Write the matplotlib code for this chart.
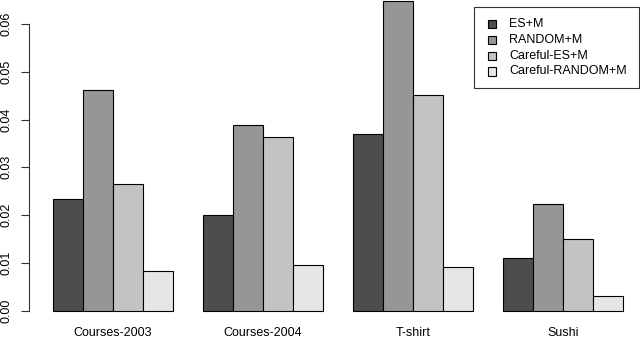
import matplotlib
matplotlib.use("Agg")
import matplotlib.pyplot as plt
from matplotlib.patches import Rectangle
import numpy as np

plt.rcParams['font.family'] = ['Liberation Sans', 'DejaVu Sans']

categories = ["Courses-2003", "Courses-2004", "T-shirt", "Sushi"]
series_names = ["ES+M", "RANDOM+M", "Careful-ES+M", "Careful-RANDOM+M"]
es_m = [0.0234, 0.0201, 0.0369, 0.0111]
random_m = [0.0461, 0.0388, 0.0649, 0.0223]
careful_es_m = [0.0265, 0.0363, 0.0452, 0.0150]
careful_random_m = [0.0083, 0.0095, 0.0092, 0.0030]
yticks = [0.00, 0.01, 0.02, 0.03, 0.04, 0.05, 0.06]
colors = ["#4D4D4D", "#969696", "#C3C3C3", "#E6E6E6"]

series = [es_m, random_m, careful_es_m, careful_random_m]

W, H = 640, 344
fig = plt.figure(figsize=(W / 100, H / 100), dpi=100)
ax = fig.add_axes([0, 0, 1, 1])
ax.set_xlim(-0.767, 20.567)
ax.set_ylim(-33.3 / 4778, 310.7 / 4778)

fs = 9.0
ngroups = len(categories)
nser = len(series)
for si, vals in enumerate(series):
    lefts = [1 + g * (nser + 1) + si for g in range(ngroups)]
    ax.bar(lefts, vals, width=1.0, align='edge', color=colors[si],
           edgecolor='black', linewidth=0.8)

centers = [1 + g * (nser + 1) + nser / 2 for g in range(ngroups)]
for c, name in zip(centers, categories):
    ax.text(c, (344 - 333) / 344, name, transform=ax.get_xaxis_transform(),
            ha='center', va='center', fontsize=fs, color='#000000')

for s in ['top', 'right', 'bottom']:
    ax.spines[s].set_visible(False)
ax.spines['left'].set_position(('data', 0.2))
ax.spines['left'].set_bounds(yticks[0], yticks[-1])
ax.spines['left'].set_linewidth(0.8)
ax.spines['left'].set_color('#333333')
ax.set_yticks(yticks)
ax.set_yticklabels([f"{t:.2f}" for t in yticks], rotation=90, va='center',
                   fontsize=fs)
ax.tick_params(axis='y', length=6, width=0.8, color='#333333', pad=6)
ax.set_xticks([])

# legend (drawn in figure pixel coords)
def fx(px):
    return px / W

def fy(py):
    return 1 - py / H

fig.patches.append(Rectangle((fx(474), fy(88)), fx(639) - fx(474), (88 - 7) / H,
                             transform=fig.transFigure, fill=False,
                             edgecolor='#333333', linewidth=0.8))
rows = [24, 40, 56, 71.5]
for name, col, ry in zip(series_names, colors, rows):
    fig.patches.append(Rectangle((fx(488), fy(ry + 4)), 8 / W, 8 / H,
                                 transform=fig.transFigure, facecolor=col,
                                 edgecolor='black', linewidth=0.8))
    fig.text(fx(509), fy(ry), name, ha='left', va='center', fontsize=fs)

fig.savefig("out.png", dpi=100)
